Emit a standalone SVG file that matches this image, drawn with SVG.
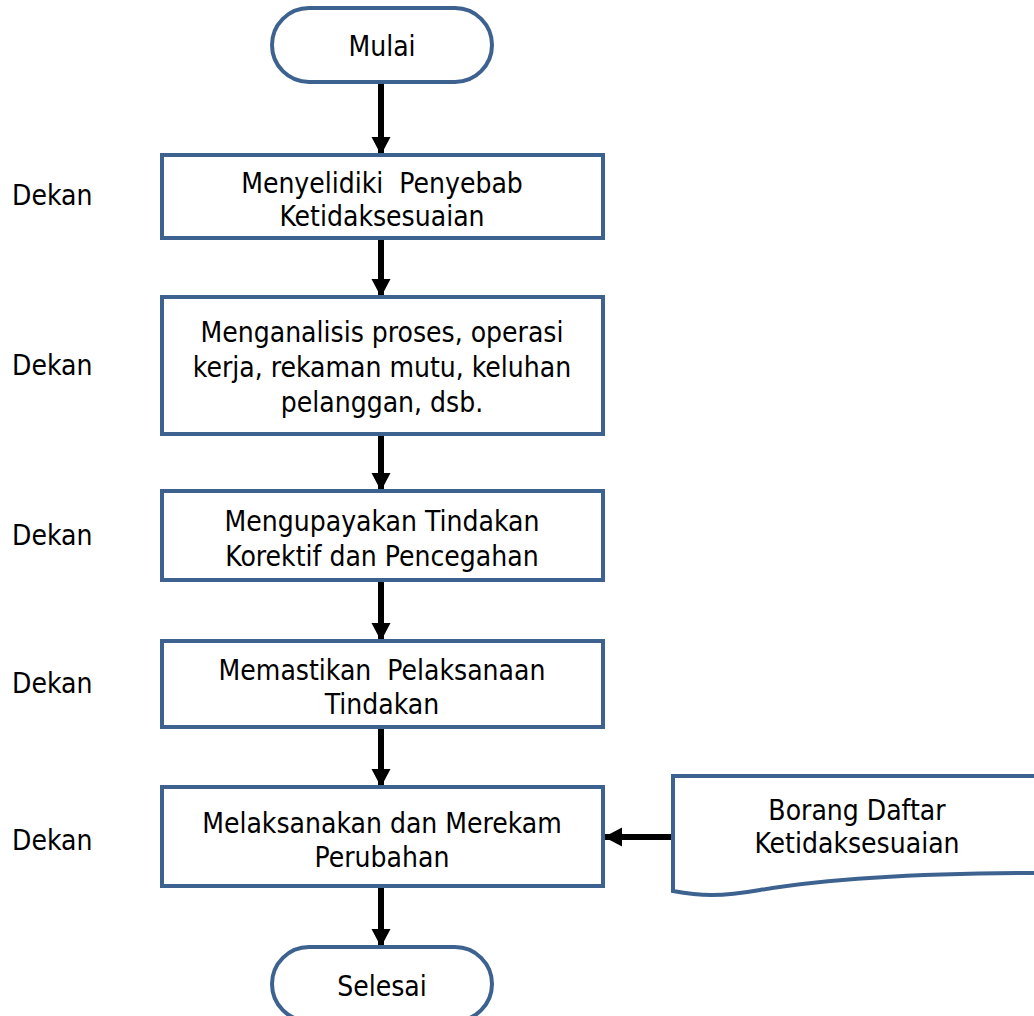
<svg xmlns="http://www.w3.org/2000/svg" width="1034" height="1016" viewBox="0 0 1034 1016">
<style>
.shape{fill:#fff;stroke:#3d6290;stroke-width:4}
.t{font-family:"DejaVu Sans Condensed","DejaVu Sans",sans-serif;font-size:28px;fill:#000;text-anchor:middle}
.l{font-family:"DejaVu Sans Condensed","DejaVu Sans",sans-serif;font-size:28px;fill:#000}
.c{stroke:#000;stroke-width:6;fill:none;marker-end:url(#ah)}
</style>
<defs>
<marker id="ah" markerUnits="userSpaceOnUse" markerWidth="20" markerHeight="20" refX="18" refY="10" orient="auto">
<path d="M0,0.5 L18,10 L0,19.5 Z" fill="#000"/>
</marker>
</defs>
<rect width="1034" height="1016" fill="#fff"/>
<g id="labels">
<text class="l" x="12" y="205">Dekan</text>
<text class="l" x="12" y="375">Dekan</text>
<text class="l" x="12" y="545">Dekan</text>
<text class="l" x="12" y="693">Dekan</text>
<text class="l" x="12" y="850">Dekan</text>
</g>
<g id="connectors">
<line class="c" x1="381" y1="84" x2="381" y2="155"/>
<line class="c" x1="381" y1="240" x2="381" y2="297"/>
<line class="c" x1="381" y1="436" x2="381" y2="491"/>
<line class="c" x1="381" y1="582" x2="381" y2="641"/>
<line class="c" x1="381" y1="729" x2="381" y2="787"/>
<line class="c" x1="381" y1="888" x2="381" y2="947"/>
<line class="c" x1="673" y1="837" x2="604" y2="837"/>
</g>
<g id="start">
<rect class="shape" x="272" y="8" width="220" height="74" rx="37"/>
<text class="t" x="382" y="56">Mulai</text>
</g>
<g id="n1">
<rect class="shape" x="162" y="155" width="441" height="83"/>
<text class="t" x="382" y="193" xml:space="preserve">Menyelidiki  Penyebab</text>
<text class="t" x="382" y="226">Ketidaksesuaian</text>
</g>
<g id="n2">
<rect class="shape" x="162" y="297" width="441" height="137"/>
<text class="t" x="382" y="342">Menganalisis proses, operasi</text>
<text class="t" x="382" y="377">kerja, rekaman mutu, keluhan</text>
<text class="t" x="382" y="412">pelanggan, dsb.</text>
</g>
<g id="n3">
<rect class="shape" x="162" y="491" width="441" height="89"/>
<text class="t" x="382" y="531">Mengupayakan Tindakan</text>
<text class="t" x="382" y="566">Korektif dan Pencegahan</text>
</g>
<g id="n4">
<rect class="shape" x="162" y="641" width="441" height="86"/>
<text class="t" x="382" y="680" xml:space="preserve">Memastikan  Pelaksanaan</text>
<text class="t" x="382" y="714">Tindakan</text>
</g>
<g id="n5">
<rect class="shape" x="162" y="787" width="441" height="99"/>
<text class="t" x="382" y="833">Melaksanakan dan Merekam</text>
<text class="t" x="382" y="867">Perubahan</text>
</g>
<g id="doc">
<path class="shape" d="M673,776 L1040,776 L1040,873 C900,873 820,880 760,890 C720,897 700,896 673,891 Z"/>
<text class="t" x="857" y="820">Borang Daftar</text>
<text class="t" x="857" y="853">Ketidaksesuaian</text>
</g>
<g id="end">
<rect class="shape" x="272" y="947" width="220" height="74" rx="37"/>
<text class="t" x="382" y="996">Selesai</text>
</g>
</svg>
